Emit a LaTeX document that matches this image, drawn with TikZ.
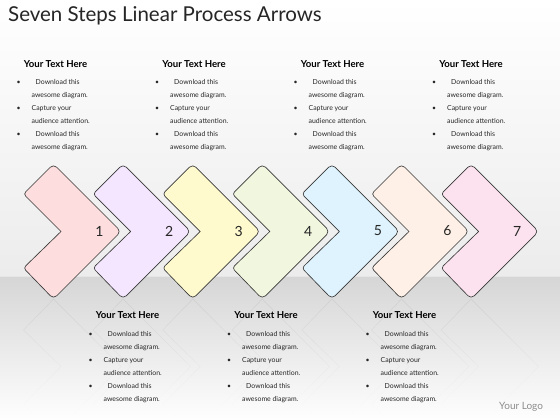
\documentclass[tikz,border=0pt]{standalone}
\usepackage{fontspec}
\setmainfont{Lato}
\usetikzlibrary{fadings}
\definecolor{cA}{RGB}{253,221,221}
\definecolor{cB}{RGB}{244,230,254}
\definecolor{cC}{RGB}{255,250,206}
\definecolor{cD}{RGB}{241,247,222}
\definecolor{cE}{RGB}{222,243,253}
\definecolor{cF}{RGB}{254,240,230}
\definecolor{cG}{RGB}{252,226,238}
\definecolor{floorgray}{RGB}{214,214,214}
\definecolor{skygray}{RGB}{236,236,236}
\tikzset{
  chev/.style={draw=black!78, line width=0.65pt, line join=round},
  refl/.style={draw=black!40, line width=0.5pt, opacity=0.28},
  num/.style={font=\fontsize{14}{14}\selectfont, text=black!85, inner sep=0pt},
  head/.style={font=\fontsize{9.6}{11}\selectfont\bfseries, inner sep=0pt, anchor=base},
  body/.style={font=\fontsize{6.9}{13}\selectfont, align=left, inner sep=0pt, anchor=north west, text=black!85},
}
\newcommand\bodytext{%
\makebox[15pt][l]{\textbullet}\makebox[4pt]{}Download this\\
\makebox[15pt]{}awesome diagram.\\
\makebox[15pt][l]{\textbullet}Capture your\\
\makebox[15pt]{}audience attention.\\
\makebox[15pt][l]{\textbullet}\makebox[4pt]{}Download this\\
\makebox[15pt]{}awesome diagram.}
\begin{document}
\begin{tikzpicture}[x=1pt,y=-1pt]
\useasboundingbox (0,0) rectangle (560,420);
% background
\shade[top color=white, bottom color=skygray] (0,0) rectangle (560,276);
\fill[floorgray] (0,276) rectangle (560,420);
% reflections
\foreach \i in {1,...,7}{
  \pgfmathsetmacro\xo{53.5+69.6*(\i-1)}
  \draw[refl] (\xo+7.5,366.5) -- (\xo-30,330) -- (\xo,299) -- (\xo+67.5,366.5) -- (\xo,434) -- (\xo-30,404) -- cycle;
}
\fill[white, path fading=north] (0,276) rectangle (560,421);
\draw[white!90!black, line width=0.4pt] (0,276) -- (560,276);
% chevrons
\foreach \i/\c in {1/cA,2/cB,3/cC,4/cD,5/cE,6/cF,7/cG}{
  \pgfmathsetmacro\xo{53.5+69.6*(\i-1)}
  \filldraw[chev, fill=\c] (\xo+7.5,231.5) [rounded corners=3pt] -- (\xo-30,194) [rounded corners=4.5pt] -- (\xo,164) -- (\xo+67.5,231.5) -- (\xo,299) [rounded corners=3pt] -- (\xo-30,268) [sharp corners] -- cycle;
  \node[num] (n\i) at (\xo+46,231) {\i};
}
% title
\node[anchor=base west, inner sep=0pt, font=\fontsize{20.5}{22}\selectfont, text=black!85] (title) at (8,22) {Seven Steps Linear Process Arrows};
% top text blocks
\foreach \k/\hx in {1/55.5,3/194,5/332.5,7/471}{
  \node[head] (h\k) at (\hx,67) {Your Text Here};
  \node[body] (b\k) at (\hx-39,79) {\bodytext};
}
% bottom text blocks
\foreach \k/\hx in {2/127.5,4/266,6/404.5}{
  \node[head] (h\k) at (\hx,318) {Your Text Here};
  \node[body] (b\k) at (\hx-39,331) {\bodytext};
}
\node[anchor=base west, inner sep=0pt, font=\fontsize{10}{12}\selectfont, text=black!45] (logo) at (499,409) {Your Logo};
\end{tikzpicture}
\end{document}
